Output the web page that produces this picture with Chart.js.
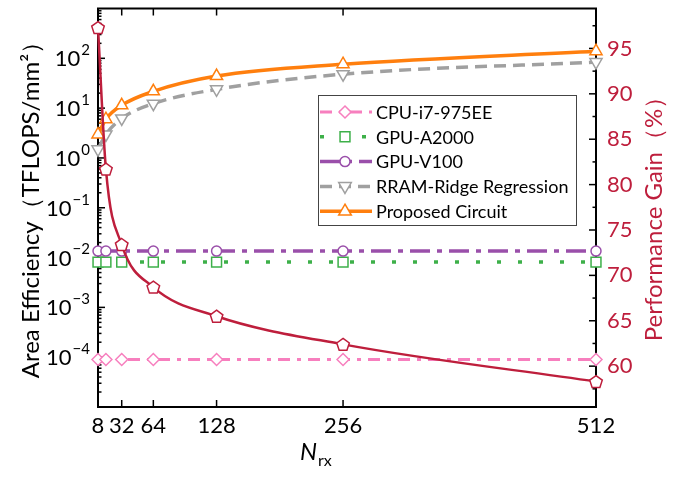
<!DOCTYPE html>
<html>
<head>
<meta charset="utf-8">
<script src="https://cdn.jsdelivr.net/npm/chart.js@4.4.1/dist/chart.umd.min.js"></script>
<style>
  html, body { margin: 0; padding: 0; background: #fff; }
  #wrap { width: 678px; height: 482px; }
</style>
</head>
<body>
<div id="wrap"><canvas id="chart"></canvas></div>
<script>
// data
const nrx = [8, 16, 32, 64, 128, 256, 512];
const xTicks = [8, 32, 64, 128, 256, 512];
const cpuI7 = [9e-5, 9e-5, 9e-5, 9e-5, 9e-5, 9e-5, 9e-5];
const gpuA2000 = [0.0081, 0.0081, 0.0081, 0.0081, 0.0081, 0.0081, 0.0081];
const gpuV100 = [0.0135, 0.0135, 0.0135, 0.0135, 0.0135, 0.0135, 0.0135];
const rramRidge = [1.49, 2.96, 6.2, 12.3, 23.8, 48, 84];
const proposed = [2.96, 6.0, 11.4, 21.7, 44, 76, 139];
const perfGain = [97.3, 81.7, 73.4, 68.7, 65.5, 62.4, 58.3];
const leftTicks = [1e-4, 1e-3, 1e-2, 1e-1, 1, 10, 100];
const rightTicks = [60, 65, 70, 75, 80, 85, 90, 95];

const FONT = 'Lato, "Liberation Sans", sans-serif';
const CRIMSON = '#BE1E3C';

function pts(arr) {
    return nrx.map((x, i) => ({ x: x, y: arr[i] }));
}

function line(ctx, x1, y1, x2, y2) {
    ctx.beginPath();
    ctx.moveTo(x1, y1);
    ctx.lineTo(x2, y2);
    ctx.stroke();
}

function marker(ctx, style, x, y, r, color) {
    ctx.save();
    ctx.fillStyle = '#fff';
    ctx.strokeStyle = color;
    ctx.lineWidth = 1.5;
    ctx.setLineDash([]);
    ctx.beginPath();
    if (style === 'circle') {
        ctx.arc(x, y, r, 0, Math.PI * 2);
    } else if (style === 'rect') {
        const s = r * Math.SQRT1_2;
        ctx.rect(x - s, y - s, 2 * s, 2 * s);
    } else if (style === 'rectRot') {
        ctx.moveTo(x, y - r); ctx.lineTo(x + r, y); ctx.lineTo(x, y + r); ctx.lineTo(x - r, y); ctx.closePath();
    } else if (style === 'up' || style === 'down') {
        const d = style === 'up' ? 1 : -1;
        ctx.moveTo(x, y - d * r); ctx.lineTo(x + r * 0.9, y + d * r * 0.55); ctx.lineTo(x - r * 0.9, y + d * r * 0.55); ctx.closePath();
    } else if (style === 'pentagon') {
        for (let i = 0; i < 5; i++) {
            const a = -Math.PI / 2 + i * 2 * Math.PI / 5;
            const px = x + r * Math.cos(a), py = y + 0.6 + r * Math.sin(a);
            if (i === 0) ctx.moveTo(px, py); else ctx.lineTo(px, py);
        }
        ctx.closePath();
    }
    ctx.fill();
    ctx.stroke();
    ctx.restore();
}

const legendItems = [
    { label: 'CPU-i7-975EE', color: '#F77FBE', dash: [12, 7, 4, 7], width: 3, style: 'rectRot', r: 6 },
    { label: 'GPU-A2000', color: '#3DB049', dash: [4, 17], width: 3.5, style: 'rect', r: 7 },
    { label: 'GPU-V100', color: '#9A4FAA', dash: [20, 7, 5, 7], width: 3.5, style: 'circle', r: 5 },
    { label: 'RRAM-Ridge Regression', color: '#A0A0A0', dash: [12, 7], width: 3.5, style: 'down', r: 7 },
    { label: 'Proposed Circuit', color: '#FF7F0E', dash: [], width: 3.5, style: 'up', r: 7 }
];

const framePlugin = {
    id: 'frame',
    beforeDatasetsDraw(chart) {
        const { ctx, chartArea: a, scales } = chart;
        ctx.save();
        ctx.strokeStyle = '#000';
        ctx.lineWidth = 2;
        ctx.strokeRect(a.left, a.top, a.right - a.left, a.bottom - a.top);
        ctx.lineWidth = 1.5;
        xTicks.forEach(v => {
            const x = scales.x.getPixelForValue(v);
            line(ctx, x, a.bottom, x, a.bottom - 7);
            line(ctx, x, a.top, x, a.top + 7);
        });
        for (let e = -5; e < 3; e++) {
            for (let m = 1; m < 10; m++) {
                const y = scales.y.getPixelForValue(m * Math.pow(10, e));
                if (y < a.top || y > a.bottom) continue;
                line(ctx, a.left, y, a.left + (m === 1 ? 7 : 3.5), y);
            }
        }
        for (let v = 57.5; v <= 97.5; v += 2.5) {
            const y = scales.y1.getPixelForValue(v);
            line(ctx, a.right, y, a.right - (v % 5 === 0 ? 7 : 3.5), y);
        }

        // left tick labels 10^n
        ctx.fillStyle = '#000';
        ctx.textBaseline = 'middle';
        leftTicks.forEach(v => {
            const e = Math.round(Math.log10(v));
            const exp = e < 0 ? '\u2212' + (-e) : String(e);
            const y = scales.y.getPixelForValue(v);
            ctx.font = '22px ' + FONT;
            const wBase = ctx.measureText('10').width;
            ctx.font = '15px ' + FONT;
            const wExp = ctx.measureText(exp).width;
            const right = a.left - 8;
            ctx.textAlign = 'left';
            ctx.font = '22px ' + FONT;
            ctx.fillText('10', right - wExp - wBase - 1, y + 1);
            ctx.font = '15px ' + FONT;
            ctx.fillText(exp, right - wExp, y - 8);
        });

        // axis titles
        ctx.textAlign = 'center';
        ctx.font = '24px ' + FONT;
        ctx.save();
        ctx.translate(31, 204);
        ctx.rotate(-Math.PI / 2);
        ctx.fillText('Area Efficiency\uFF08TFLOPS/mm\u00B2\uFF09', 0, 0);
        ctx.restore();
        ctx.save();
        ctx.fillStyle = CRIMSON;
        ctx.translate(654, 213);
        ctx.rotate(-Math.PI / 2);
        ctx.fillText('Performance Gain\uFF08%\uFF09', 0, 0);
        ctx.restore();

        ctx.textAlign = 'left';
        ctx.textBaseline = 'alphabetic';
        ctx.font = 'italic 24px ' + FONT;
        ctx.fillText('N', 300, 460);
        const nW = ctx.measureText('N').width;
        ctx.font = '16px ' + FONT;
        ctx.fillText('rx', 300 + nW + 1, 466);
        ctx.restore();
    }
};

// pentagon markers on the performance-gain curve, at the points laid out by Chart.js
const pentagonPlugin = {
    id: 'pentagons',
    afterDatasetsDraw(chart) {
        const meta = chart.getDatasetMeta(0);
        meta.data.forEach(p => marker(chart.ctx, 'pentagon', p.x, p.y, 6.6, CRIMSON));
    }
};

const legendPlugin = {
    id: 'boxLegend',
    afterDatasetsDraw(chart) {
        const ctx = chart.ctx;
        const bx = 318, by = 95, bw = 258, bh = 130;
        ctx.save();
        ctx.fillStyle = '#fff';
        ctx.fillRect(bx, by, bw, bh);
        ctx.strokeStyle = '#444';
        ctx.lineWidth = 1;
        ctx.strokeRect(bx + 0.5, by + 0.5, bw, bh);
        legendItems.forEach((it, i) => {
            const y = 112 + i * 24.8;
            ctx.strokeStyle = it.color;
            ctx.lineWidth = it.width;
            ctx.setLineDash(it.dash);
            line(ctx, bx + 2, y, 372, y);
            ctx.setLineDash([]);
            marker(ctx, it.style, 345, y, it.r, it.color);
            ctx.fillStyle = '#000';
            ctx.font = '18px ' + FONT;
            ctx.textBaseline = 'middle';
            ctx.textAlign = 'left';
            ctx.fillText(it.label, 376, y + 1);
        });
        ctx.restore();
    }
};

function series(label, arr, it, pointStyle, extra) {
    return Object.assign({
        label: label,
        data: pts(arr),
        yAxisID: 'y',
        borderColor: it.color,
        borderWidth: it.width,
        borderDash: it.dash,
        backgroundColor: '#fff',
        pointStyle: pointStyle,
        pointRadius: it.r,
        pointBorderWidth: 1.5,
        pointBorderColor: it.color,
        pointBackgroundColor: '#fff',
        clip: false
    }, extra || {});
}

function noPad(s) {
    s.paddingTop = 0;
    s.paddingBottom = 0;
    s.paddingLeft = 0;
    s.paddingRight = 0;
}

new Chart(document.getElementById('chart'), {
    type: 'line',
    data: {
        datasets: [
            {
                label: 'Performance Gain',
                data: pts(perfGain),
                yAxisID: 'y1',
                borderColor: CRIMSON,
                borderWidth: 2.5,
                cubicInterpolationMode: 'monotone',
                pointRadius: 0,
                clip: false
            },
            series('Proposed Circuit', proposed, legendItems[4], 'triangle', { cubicInterpolationMode: 'monotone' }),
            series('RRAM-Ridge Regression', rramRidge, legendItems[3], 'triangle', { cubicInterpolationMode: 'monotone', pointRotation: 180 }),
            series('GPU-V100', gpuV100, legendItems[2], 'circle'),
            series('GPU-A2000', gpuA2000, legendItems[1], 'rect'),
            series('CPU-i7-975EE', cpuI7, legendItems[0], 'rectRot')
        ]
    },
    options: {
        responsive: true,
        maintainAspectRatio: false,
        animation: false,
        layout: { padding: { top: 6, left: 0, right: 0, bottom: 0 } },
        plugins: { legend: { display: false }, tooltip: { enabled: false } },
        scales: {
            x: {
                type: 'linear',
                min: 8,
                max: 512,
                grid: { display: false, drawTicks: false },
                border: { display: false },
                ticks: {
                    color: '#000',
                    font: { family: FONT, size: 22 },
                    padding: 6,
                    maxRotation: 0,
                    autoSkip: false,
                    callback: v => String(v)
                },
                afterBuildTicks: s => { s.ticks = xTicks.map(v => ({ value: v })); },
                afterFit: s => { s.height = 75; noPad(s); }
            },
            y: {
                type: 'logarithmic',
                position: 'left',
                min: 1e-5,
                max: 1e3,
                grid: { display: false, drawTicks: false },
                border: { display: false },
                ticks: { display: false },
                afterBuildTicks: s => { s.ticks = leftTicks.map(v => ({ value: v })); },
                afterFit: s => { s.width = 98; noPad(s); }
            },
            y1: {
                type: 'linear',
                position: 'right',
                min: 55.5,
                max: 99.4,
                grid: { display: false, drawTicks: false },
                border: { display: false },
                ticks: {
                    color: CRIMSON,
                    font: { family: FONT, size: 22 },
                    padding: 11
                },
                afterBuildTicks: s => { s.ticks = rightTicks.map(v => ({ value: v })); },
                afterFit: s => { s.width = 82; noPad(s); }
            }
        }
    },
    plugins: [framePlugin, pentagonPlugin, legendPlugin]
});
</script>
</body>
</html>
